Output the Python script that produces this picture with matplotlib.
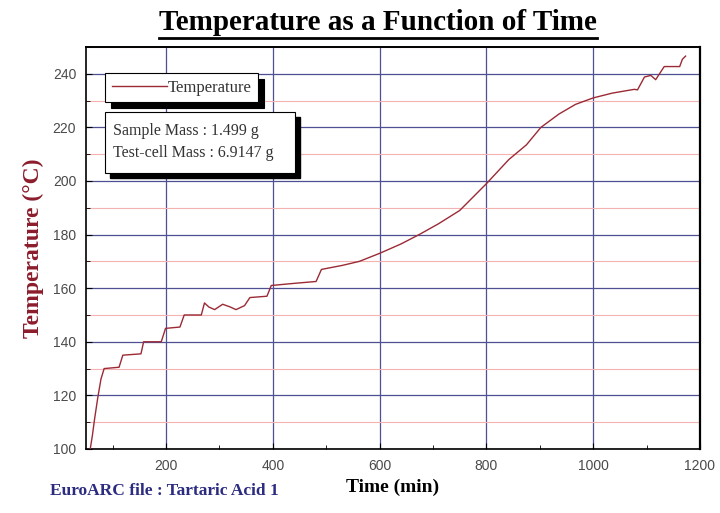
import matplotlib
matplotlib.use("Agg")
import matplotlib.pyplot as plt
from matplotlib.patches import Rectangle
from matplotlib.lines import Line2D
from matplotlib.ticker import MultipleLocator

# data
time_min = [58, 62, 66, 72, 78, 84, 112, 119, 153, 158, 191, 199, 226, 234, 266,
            272, 280, 291, 306, 320, 331, 347, 357, 389, 397, 440, 481, 491, 530,
            562, 600, 640, 674, 710, 750, 800, 842, 875, 902, 936, 967, 1000,
            1036, 1077, 1083, 1096, 1108, 1117, 1133, 1162, 1167, 1173]
temp_c = [100, 105, 111, 119, 126, 130, 130.5, 135, 135.5, 140, 140, 145, 145.5,
          150, 150, 154.5, 153, 152, 154, 153, 152, 153.5, 156.5, 157, 161, 161.8,
          162.5, 167, 168.5, 170, 173, 176.5, 180, 184, 189, 199, 208, 213.5, 220,
          225, 228.6, 231, 232.8, 234.2, 234, 238.8, 239.4, 237.8, 242.7, 242.7,
          245.4, 246.6]

title = "Temperature as a Function of Time"
series_name = "Temperature"
info_lines = ["Sample Mass : 1.499 g", "Test-cell Mass : 6.9147 g"]
file_note = "EuroARC file : Tartaric Acid 1"

serif = "Liberation Serif"
sans = "Liberation Sans"
line_col = "#9b2a35"

fig = plt.figure(figsize=(7.2, 5.13), dpi=100)
ax = fig.add_axes([0.1194, 0.1248, 0.8528, 0.7836])

ax.plot(time_min, temp_c, color=line_col, lw=1.0, label=series_name, zorder=3)

ax.set_xlim(50, 1200)
ax.set_ylim(100, 250)
ax.xaxis.set_major_locator(MultipleLocator(200))
ax.xaxis.set_minor_locator(MultipleLocator(100))
ax.yaxis.set_major_locator(MultipleLocator(20))
ax.yaxis.set_minor_locator(MultipleLocator(10))

# grid: blue majors, pink minor horizontals
ax.grid(which="major", color="#4f4f94", lw=0.9)
ax.grid(which="minor", axis="y", color="#f3b3b3", lw=0.8)
ax.set_axisbelow(True)

ax.tick_params(which="both", direction="in", labelsize=10, labelcolor="#4a4a4a",
               labelfontfamily=sans)
ax.tick_params(which="major", length=4, pad=7)
ax.tick_params(which="minor", length=3)
for s in ax.spines.values():
    s.set_linewidth(1.2)
ax.spines["right"].set_linewidth(1.6)
ax.spines["top"].set_linewidth(1.4)

ax.set_xlabel("Time (min)", fontsize=14, fontweight="bold", family=serif, labelpad=4)
ax.set_ylabel("Temperature (\u00b0C)", fontsize=17, fontweight="bold", family=serif,
              color="#8b1c2c", labelpad=6)

# legend with a solid black drop shadow
leg = ax.legend(loc="upper left", bbox_to_anchor=(0.031, 0.935), borderaxespad=0,
                frameon=True, fancybox=False, edgecolor="black", framealpha=1,
                prop={"family": serif, "size": 12}, handlelength=3.3,
                borderpad=0.4, handletextpad=0.05,
                shadow={"color": "black", "alpha": 1, "ox": 4, "oy": -4})
leg.get_frame().set_linewidth(0.8)
for t in leg.get_texts():
    t.set_color("#333333")

# info box with shadow
bx, by, bw, bh = 0.031, 0.687, 0.31, 0.152
ax.add_patch(Rectangle((bx + 0.0075, by - 0.013), bw, bh, transform=ax.transAxes,
                       facecolor="black", edgecolor="black", zorder=5))
ax.add_patch(Rectangle((bx, by), bw, bh, transform=ax.transAxes,
                       facecolor="white", edgecolor="black", lw=0.8, zorder=6))
for i, txt in enumerate(info_lines):
    ax.text(bx + 0.013, 0.79 - i * 0.053, txt, transform=ax.transAxes,
            family=serif, fontsize=11.5, color="#333333", va="center", zorder=7)

# title with underline
tt = fig.text(0.525, 1 - 30 / 513, title, ha="center", va="baseline",
              family=serif, fontsize=21, fontweight="bold")
fig.text(50 / 720, 1 - 491 / 513, file_note, ha="left", va="center",
         family=serif, fontsize=12.5, fontweight="bold", color="#2b2b80")

fig.canvas.draw()
bb = tt.get_window_extent()
fig.add_artist(Line2D([bb.x0 / fig.bbox.width, bb.x1 / fig.bbox.width],
                      [(bb.y0 - 2) / fig.bbox.height] * 2,
                      transform=fig.transFigure, color="black", lw=2))

fig.savefig("out.png", dpi=100)
